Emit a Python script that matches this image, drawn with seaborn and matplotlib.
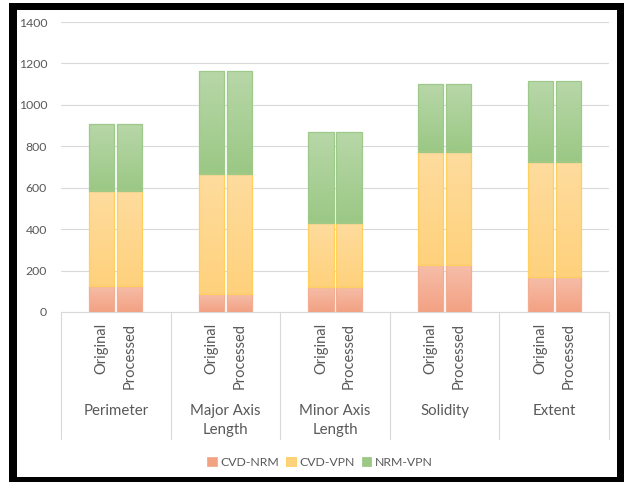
import numpy as np
import pandas as pd
import matplotlib
matplotlib.use("Agg")
import matplotlib.pyplot as plt
from matplotlib.patches import Rectangle, Patch
from matplotlib.colors import to_rgb
import seaborn as sns

# ---- data -------------------------------------------------------------
categories = ["Perimeter", "Major Axis\nLength", "Minor Axis\nLength", "Solidity", "Extent"]
versions = ["Original", "Processed"]
series = ["CVD-NRM", "CVD-VPN", "NRM-VPN"]
cvd_nrm = [127, 85, 121, 225, 171]
cvd_vpn = [456, 580, 309, 548, 553]
nrm_vpn = [325, 499, 437, 328, 391]
y_ticks = [0, 200, 400, 600, 800, 1000, 1200, 1400]

# ---- styling ----------------------------------------------------------
# (top colour, bottom colour, edge colour) for each stacked segment
seg_style = {
    "CVD-NRM": ("#F6BEA9", "#F3A183", "#F2AE92"),
    "CVD-VPN": ("#FFDC9E", "#FED17C", "#FFD05E"),
    "NRM-VPN": ("#B8D7A8", "#9BC885", "#9DC98A"),
}
text_gray = "#595959"
grid_gray = "#D9D9D9"

sns.set_theme(style="white")
plt.rcParams["font.family"] = ["Lato", "DejaVu Sans"]

W, H = 624, 482
fig = plt.figure(figsize=(W / 100, H / 100), dpi=100)
fig.patch.set_facecolor("white")

# thick black frame around the chart area
fig.patches.append(Rectangle((9 / W, 0), (W - 9) / W, (H - 3) / H,
                             transform=fig.transFigure, facecolor="black",
                             edgecolor="none", zorder=-10))
fig.patches.append(Rectangle((17 / W, 5 / H), (617 - 17) / W, (477 - 10) / H,
                             transform=fig.transFigure, facecolor="white",
                             edgecolor="none", zorder=-9))

ax = fig.add_axes([61 / W, 170 / H, 548 / W, 290 / H])
ax.set_zorder(2)
ax.set_facecolor("none")

# long-form table
rows = []
for name, vals in zip(series, [cvd_nrm, cvd_vpn, nrm_vpn]):
    for cat, v in zip(categories, vals):
        for ver in versions:
            rows.append({"category": cat, "version": ver, "series": name, "value": v})
df = pd.DataFrame(rows)

# stacked bars, one seaborn call per segment
bottoms = np.zeros(len(categories))
seg_patches = {}
for name, vals in zip(series, [cvd_nrm, cvd_vpn, nrm_vpn]):
    top_c, bot_c, edge_c = seg_style[name]
    n0 = len(ax.patches)
    sns.barplot(data=df[df["series"] == name], x="category", y="value",
                hue="version", order=categories, hue_order=versions,
                palette=[bot_c, bot_c], width=0.511, gap=0.107,
                bottom=bottoms.copy(), errorbar=None, legend=False,
                edgecolor=edge_c, linewidth=0.9, ax=ax, zorder=3)
    seg_patches[name] = list(ax.patches[n0:])
    bottoms += np.array(vals)

# vertical gradient fill inside each bar segment
for name, patches in seg_patches.items():
    top_c, bot_c, _ = seg_style[name]
    grad = np.linspace(0, 1, 64)[:, None, None]
    img = (1 - grad) * np.array(to_rgb(top_c)) + grad * np.array(to_rgb(bot_c))
    for p in patches:
        x0, y0 = p.get_x(), p.get_y()
        w, h = p.get_width(), p.get_height()
        im = ax.imshow(img, extent=[x0, x0 + w, y0, y0 + h], origin="upper",
                       aspect="auto", zorder=2.9, interpolation="bilinear")
        im.set_clip_path(p)
        p.set_facecolor("none")

ax.set_xlim(-0.5, len(categories) - 0.5)
ax.set_ylim(0, 1400)

# axes, grid, ticks
ax.set_yticks(y_ticks)
ax.set_yticklabels([str(t) for t in y_ticks])
ax.yaxis.grid(True, color=grid_gray, linewidth=0.8, zorder=0)
ax.set_axisbelow(True)
for s in ["top", "right", "left"]:
    ax.spines[s].set_visible(False)
ax.spines["bottom"].set_color(grid_gray)
ax.spines["bottom"].set_linewidth(0.8)
ax.tick_params(axis="y", length=0, pad=10, labelsize=8.8, labelcolor=text_gray)

centers = sorted(p.get_x() + p.get_width() / 2 for p in seg_patches["CVD-NRM"])
ax.set_xticks(centers)
ax.set_xticklabels([versions[i % 2] for i in range(len(centers))], rotation=90)
ax.tick_params(axis="x", length=0, pad=8, labelsize=10.5, labelcolor=text_gray)
ax.set_xlabel("")
ax.set_ylabel("")

# category labels and group separators below the axis
xt = ax.get_xaxis_transform()
for i, cat in enumerate(categories):
    ax.text(i, -92 / 290, cat, transform=xt, ha="center", va="top",
            fontsize=10.8, color=text_gray, linespacing=1.45)
for xb in np.arange(-0.5, len(categories), 1.0):
    ax.plot([xb, xb], [0, -(439 - 312) / 290], transform=xt, color=grid_gray,
            linewidth=0.8, clip_on=False)

# legend
handles = [Patch(facecolor=seg_style[n][1], edgecolor=seg_style[n][2], linewidth=0.6)
           for n in series]
fig.legend(handles, series, loc="center", bbox_to_anchor=(320 / W, 1 - 462 / H),
           ncol=3, frameon=False, fontsize=8.8, labelcolor=text_gray,
           handlelength=0.75, handleheight=0.75, handletextpad=0.3,
           columnspacing=0.6)

fig.savefig("out.png", dpi=100)
